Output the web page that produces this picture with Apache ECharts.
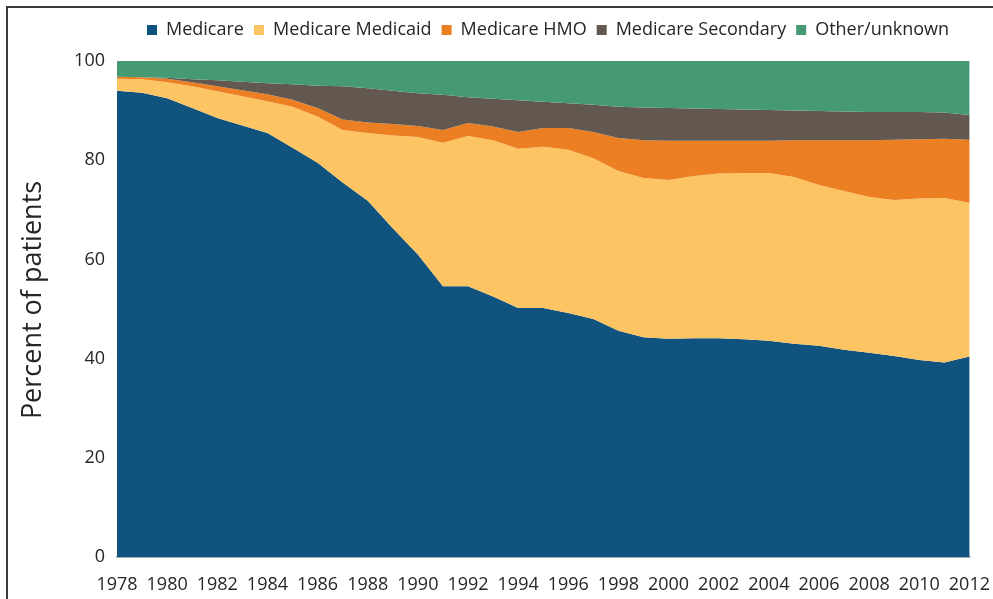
<!DOCTYPE html>
<html>
<head>
<meta charset="utf-8">
<script src="https://cdn.jsdelivr.net/npm/echarts@6/dist/echarts.min.js"></script>
<style>
  html, body { margin: 0; padding: 0; background: #ffffff; }
  #chart { width: 993px; height: 599px; }
</style>
</head>
<body>
<div id="chart"></div>
<script>
const years = ['1978','1979','1980','1981','1982','1983','1984','1985','1986','1987',
  '1988','1989','1990','1991','1992','1993','1994','1995','1996','1997',
  '1998','1999','2000','2001','2002','2003','2004','2005','2006','2007',
  '2008','2009','2010','2011','2012'];

const medicare = [94.0,93.6,92.5,90.5,88.5,87.0,85.5,82.5,79.5,75.5,
  71.8,66.3,61.0,54.6,54.6,52.5,50.2,50.2,49.2,48.0,
  45.6,44.3,44.0,44.1,44.1,43.9,43.6,43.0,42.6,41.8,
  41.2,40.5,39.7,39.2,40.4];

const medicareMedicaid = [2.4,2.7,3.2,4.4,5.4,5.9,6.4,8.3,9.3,10.6,
  13.7,18.7,23.7,28.9,30.3,31.5,32.1,32.5,32.9,32.4,
  32.2,32.1,32.0,32.7,33.2,33.5,33.8,33.6,32.4,32.0,
  31.4,31.5,32.6,33.2,31.0];

const medicareHMO = [0.4,0.4,0.7,0.8,1.0,1.2,1.4,1.4,1.7,2.1,
  2.1,2.3,2.2,2.6,2.6,2.8,3.4,3.8,4.4,5.3,
  6.7,7.6,7.9,7.1,6.6,6.5,6.5,7.4,9.0,10.2,
  11.4,12.1,11.9,11.9,12.7];

const medicareSecondary = [0.0,0.0,0.2,0.6,1.2,1.7,2.2,3.1,4.5,6.7,
  6.9,6.7,6.6,7.1,5.2,5.6,6.4,5.3,5.0,5.5,
  6.3,6.6,6.6,6.5,6.4,6.3,6.2,6.0,5.9,5.8,
  5.7,5.6,5.5,5.3,5.0];

const otherUnknown = [3.2,3.3,3.4,3.7,3.9,4.2,4.5,4.7,5.0,5.1,
  5.5,6.0,6.5,6.8,7.3,7.6,7.9,8.2,8.5,8.8,
  9.2,9.4,9.5,9.6,9.7,9.8,9.9,10.0,10.1,10.2,
  10.3,10.3,10.3,10.4,10.9];

const seriesNames = ['Medicare','Medicare Medicaid','Medicare HMO','Medicare Secondary','Other/unknown'];
const seriesData = [medicare, medicareMedicaid, medicareHMO, medicareSecondary, otherUnknown];
const colors = ['#10537e','#fdc463','#ec7f22','#625850','#459a74'];

const chart = echarts.init(document.getElementById('chart'), null, {renderer: 'canvas'});

const option = {
  animation: false,
  color: colors,
  textStyle: { fontFamily: 'Open Sans' },
  legend: {
    left: 142,
    top: 16,
    itemWidth: 10,
    itemHeight: 10,
    itemGap: 10,
    icon: 'rect',
    textStyle: { fontSize: 18, color: '#262626', fontFamily: 'Open Sans', padding: [0,0,0,4] },
    data: seriesNames
  },
  grid: { left: 117, right: 16, top: 61, bottom: 42, containLabel: false },
  xAxis: {
    type: 'category',
    data: years,
    boundaryGap: false,
    axisLine: { show: true, lineStyle: { color: '#a6a6a6', width: 2 } },
    axisTick: { show: false },
    axisLabel: { interval: 1, fontSize: 18, color: '#262626', margin: 19, fontFamily: 'Open Sans' },
    splitLine: { show: false }
  },
  yAxis: {
    type: 'value',
    min: 0,
    max: 100,
    interval: 20,
    name: 'Percent of patients',
    nameLocation: 'middle',
    nameGap: 70,
    nameRotate: 90,
    nameTextStyle: { fontSize: 27, color: '#262626', fontFamily: 'Open Sans', padding: [0,0,0,18] },
    axisLine: { show: false },
    axisTick: { show: false },
    axisLabel: { fontSize: 18, color: '#262626', margin: 12, fontFamily: 'Open Sans' },
    splitLine: { show: false }
  },
  graphic: [{
    type: 'rect',
    shape: { x: 7, y: 7, width: 1100, height: 700 },
    style: { fill: 'none', stroke: '#3a3a3a', lineWidth: 2 },
    silent: true
  }],
  series: seriesNames.map((name, i) => ({
    name: name,
    type: 'line',
    stack: 'total',
    data: seriesData[i],
    showSymbol: false,
    symbol: 'none',
    smooth: false,
    lineStyle: { width: 0 },
    areaStyle: { color: colors[i], opacity: 1 },
    itemStyle: { color: colors[i] }
  }))
};
chart.setOption(option);
</script>
</body>
</html>
